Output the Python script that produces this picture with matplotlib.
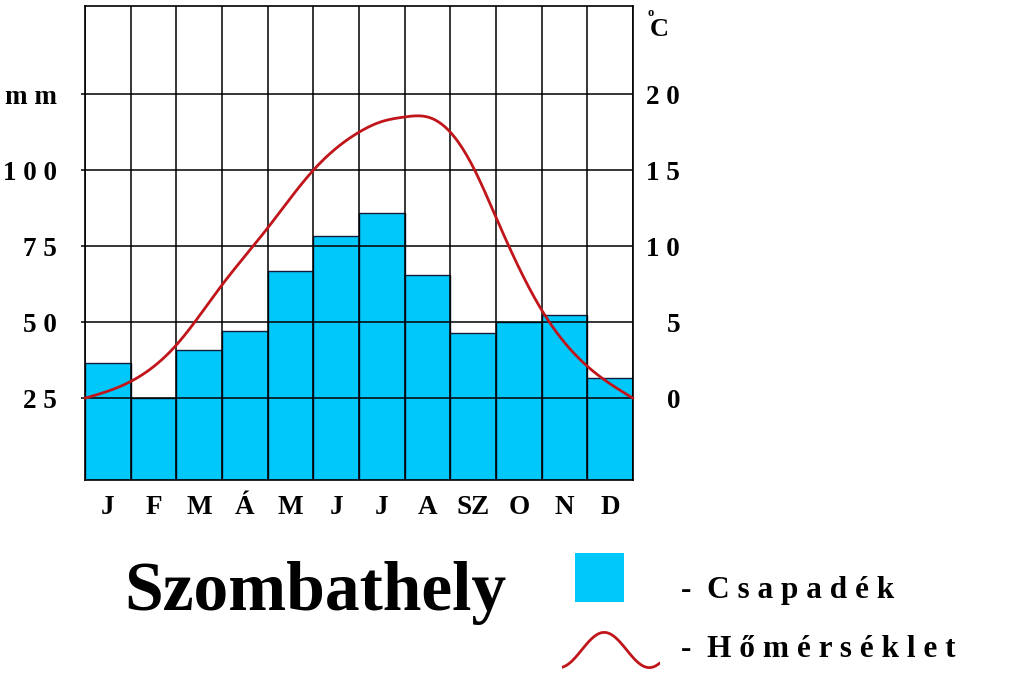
import numpy as np
import matplotlib
matplotlib.use("Agg")
import matplotlib.pyplot as plt
from matplotlib.patches import Rectangle

# ---------------- data ----------------
months = ["J", "F", "M", "Á", "M", "J", "J", "A", "SZ", "O", "N", "D"]
precip_mm = [36.6, 25.0, 41.0, 47.1, 66.8, 78.2, 85.8, 65.6, 46.5, 50.0, 52.4, 31.7]

# temperature curve read at month boundaries (0 = start of Jan, 12 = end of Dec)
temp_pos = [0, 1, 2, 3, 4, 5, 6, 6.5, 7, 7.5, 8, 8.5, 9, 9.5, 10, 11, 12]
temp_c = [0.0, 1.1, 3.5, 7.45, 11.2, 15.0, 17.5, 18.2, 18.5, 18.5, 17.5, 15.2, 11.9,
          8.6, 5.8, 2.1, 0.0]

mm_ticks = [25, 50, 75, 100, 125]
mm_labels = ["2 5", "5 0", "7 5", "1 0 0", "m m"]
c_ticks = [0, 5, 10, 15, 20]
c_labels = ["0", "5", "1 0", "1 5", "2 0"]

BAR = "#00c8fa"
RED = "#c0161b"
SERIF = "Liberation Serif"
W, H = 1024, 678


def natural_spline(xs, ys, n=400):
    # natural cubic spline through the read points, only for a smooth line
    xs = np.asarray(xs, float)
    ys = np.asarray(ys, float)
    k = len(xs)
    h = np.diff(xs)
    A = np.zeros((k, k))
    b = np.zeros(k)
    A[0, 0] = A[-1, -1] = 1
    for i in range(1, k - 1):
        A[i, i - 1] = h[i - 1]
        A[i, i] = 2 * (h[i - 1] + h[i])
        A[i, i + 1] = h[i]
        b[i] = 6 * ((ys[i + 1] - ys[i]) / h[i] - (ys[i] - ys[i - 1]) / h[i - 1])
    M = np.linalg.solve(A, b)
    xx = np.linspace(xs[0], xs[-1], n)
    idx = np.clip(np.searchsorted(xs, xx) - 1, 0, k - 2)
    x0, x1 = xs[idx], xs[idx + 1]
    hh = x1 - x0
    a = (x1 - xx) / hh
    c = (xx - x0) / hh
    yy = (a * ys[idx] + c * ys[idx + 1]
          + ((a ** 3 - a) * M[idx] + (c ** 3 - c) * M[idx + 1]) * hh ** 2 / 6)
    return xx, yy


def fx(px):
    return px / W


def fy(py):
    return 1 - py / H


fig = plt.figure(figsize=(10.24, 6.78), dpi=100)
fig.patch.set_facecolor("white")

# plot area in pixels: left 85, right 633, top 6, bottom 480
ax = fig.add_axes([fx(85), fy(480), (633 - 85) / W, (480 - 6) / H])
ymin, ymax = -1.9, 154.0
ax.set_xlim(0, 12)
ax.set_ylim(ymin, ymax)

x = np.arange(12) + 0.5
ax.bar(x, np.array(precip_mm) - ymin, bottom=ymin, width=1.0, color=BAR,
       edgecolor="#141a3c", linewidth=1.0, zorder=1)

ax.set_xticks(x)
ax.set_xticklabels(months, fontfamily=SERIF, fontweight="bold", fontsize=19.5)
ax.set_xticks(np.arange(13), minor=True)
ax.tick_params(axis="x", which="both", length=0, pad=11)

ax.set_yticks(mm_ticks)
ax.set_yticklabels(mm_labels, fontfamily=SERIF, fontweight="bold", fontsize=19.5)
ax.tick_params(axis="y", length=3, width=1.1, direction="out", pad=17)

ax.set_axisbelow(False)
ax.grid(True, which="minor", axis="x", color="black", linewidth=1.1)
ax.grid(True, which="major", axis="y", color="black", linewidth=1.1)
for s in ax.spines.values():
    s.set_linewidth(1.2)

# temperature axis: 0 C sits on the 25 mm line, 5 C per 25 mm
ax2 = ax.twinx()
ax2.set_ylim((ymin - 25) / 5, (ymax - 25) / 5)
ax2.set_yticks(c_ticks)
ax2.set_yticklabels(c_labels, fontfamily=SERIF, fontweight="bold", fontsize=19.5,
                    ha="right")
ax2.tick_params(axis="y", length=0, pad=34)
for s in ax2.spines.values():
    s.set_visible(False)

cx, cy = natural_spline(temp_pos, temp_c)
ax2.plot(cx, cy, color=RED, linewidth=2.0, solid_capstyle="round", clip_on=False)

# unit labels
fig.text(fx(650), fy(30), "C", fontfamily=SERIF, fontweight="bold", fontsize=19,
         ha="left", va="center")
fig.text(fx(648), fy(13), "o", fontfamily=SERIF, fontweight="bold", fontsize=9,
         ha="left", va="center")

# title
fig.text(fx(124), fy(610), "Szombathely", fontfamily=SERIF, fontweight="bold",
         fontsize=50, ha="left", va="baseline")

# legend
fig.patches.append(Rectangle((fx(575), fy(602)), 49 / W, 49 / H,
                             transform=fig.transFigure, facecolor=BAR,
                             edgecolor="none"))
fig.text(fx(681), fy(598), "-  C s a p a d é k", fontfamily=SERIF, fontweight="bold",
         fontsize=22.5, ha="left", va="baseline")
fig.text(fx(681), fy(657), "-  H ő m é r s é k l e t", fontfamily=SERIF,
         fontweight="bold", fontsize=22.5, ha="left", va="baseline")

lax = fig.add_axes([fx(562), fy(669), 98 / W, 38 / H])
t = np.linspace(0.25, 2 * np.pi + 0.7, 80)
lax.plot(t, -np.cos(t), color=RED, linewidth=2.0)
lax.set_xlim(t[0] - 0.05, t[-1] + 0.05)
lax.set_ylim(-1.08, 1.08)
lax.axis("off")

fig.savefig("out.png", dpi=100, facecolor="white")
